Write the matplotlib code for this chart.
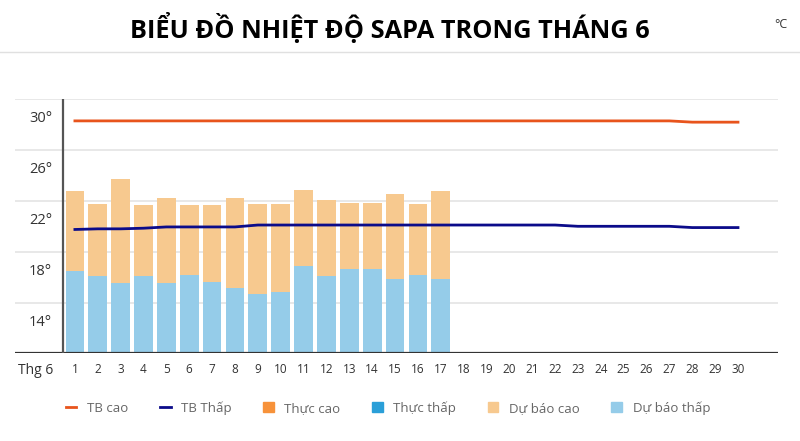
import matplotlib.pyplot as plt
from matplotlib.lines import Line2D
from matplotlib.patches import Patch

days = list(range(1, 31))
tb_cao = [30.3] * 27 + [30.2] * 3
tb_thap = [21.75, 21.8, 21.8, 21.85, 21.95, 21.95, 21.95, 21.95] + [22.1] * 14 + [22.0] * 5 + [21.9] * 3

fc_days = list(range(1, 18))
du_bao_cao = [24.8, 23.75, 25.75, 23.65, 24.25, 23.65, 23.65, 24.25, 23.75,
              23.75, 24.85, 24.05, 23.85, 23.85, 24.55, 23.75, 24.8]
du_bao_thap = [18.45, 18.05, 17.55, 18.05, 17.55, 18.15, 17.65, 17.15, 16.65,
               16.85, 18.85, 18.05, 18.65, 18.65, 17.85, 18.15, 17.85]

y_labels = [14, 18, 22, 26, 30]
grid_vals = [16, 20, 24, 28, 32]

c_tb_cao = "#e8541c"
c_tb_thap = "#0b0b8a"
c_thuc_cao = "#f7923a"
c_thuc_thap = "#2a9fd8"
c_db_cao = "#f7c98f"
c_db_thap = "#95cce9"

plt.rcParams['font.family'] = ['Open Sans', 'DejaVu Sans']

fig = plt.figure(figsize=(8, 4.41), dpi=100)
ax = fig.add_axes([15 / 800, 1 - 353.3 / 441, 763 / 800, 254 / 441])
ax.set_xlim(-1.62, 31.75)
ax.set_ylim(12, 32)
for s in ax.spines.values():
    s.set_visible(False)

for g in grid_vals:
    ax.axhline(g, color="#e6e6e6", lw=1.3, zorder=0)
ax.axhline(12, color="#333333", lw=1.6, zorder=3)
ax.plot([0.5, 0.5], [12, 32], color="#555555", lw=1.6, zorder=3)

ax.bar(fc_days, [v - 12 for v in du_bao_cao], bottom=12, width=0.82, color=c_db_cao, zorder=1)
ax.bar(fc_days, [v - 12 for v in du_bao_thap], bottom=12, width=0.82, color=c_db_thap, zorder=2)

ax.plot(days, tb_cao, color=c_tb_cao, lw=2, zorder=4)
ax.plot(days, tb_thap, color=c_tb_thap, lw=2, zorder=4)

ax.set_yticks([])
for v in y_labels:
    ax.text(0.0, v + 0.45, f"{v}°", ha="right", va="center", fontsize=10.5, color="#333333")

ax.set_xticks([-0.7] + days)
ax.set_xticklabels(["Thg 6"] + [str(d) for d in days])
ax.tick_params(axis="x", length=0, pad=7, labelsize=8.5, colors="#333333")
ax.get_xticklabels()[0].set_fontsize(10)

fig.text(0.487, 0.935, "BIỂU ĐỒ NHIỆT ĐỘ SAPA TRONG THÁNG 6", ha="center", va="center",
         fontsize=18.3, fontweight="bold", family=["Liberation Sans Narrow", "Open Sans", "DejaVu Sans"])
fig.text(0.976, 0.945, "°C", ha="center", va="center", fontsize=9, color="#333333")
fig.add_artist(Line2D([0, 1], [1 - 52 / 441] * 2, color="#e0e0e0", lw=1))

handles = [
    Line2D([], [], color=c_tb_cao, lw=2),
    Line2D([], [], color=c_tb_thap, lw=2),
    Patch(color=c_thuc_cao),
    Patch(color=c_thuc_thap),
    Patch(color=c_db_cao),
    Patch(color=c_db_thap),
]
labels = ["TB cao", "TB Thấp", "Thực cao", "Thực thấp", "Dự báo cao", "Dự báo thấp"]
fig.legend(handles, labels, loc="center", bbox_to_anchor=(0.485, 1 - 408 / 441), ncol=6,
           frameon=False, fontsize=9.5, labelcolor="#666666", handlelength=0.8, handleheight=0.8,
           columnspacing=2.4, handletextpad=0.8)

fig.savefig("out.png", dpi=100)
